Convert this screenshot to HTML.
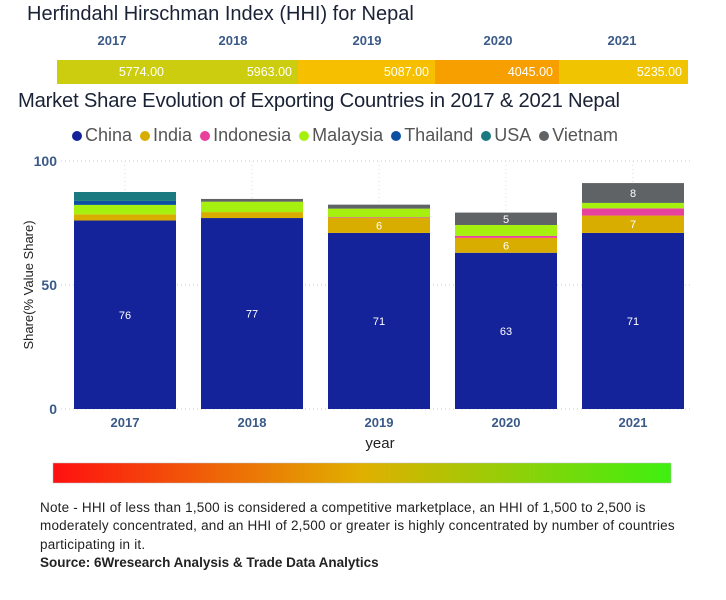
<!DOCTYPE html>
<html><head><meta charset="utf-8"><style>
body{margin:0;width:726px;height:600px;background:#fff;font-family:"Liberation Sans",sans-serif;position:relative;overflow:hidden}
.abs{position:absolute}
.t1{left:27px;top:3px;font-size:20px;color:#1a2236;letter-spacing:0px}
.yr{top:33px;font-size:13px;font-weight:bold;color:#3b5a88;width:80px;text-align:center}
.hhi{top:60px;height:24px;color:#fff;font-size:12.5px;line-height:24px;text-align:right;box-sizing:border-box;padding-right:6px}
.t2{left:18px;top:90px;font-size:20.2px;color:#1a2236;letter-spacing:-0.2px}
.leg{top:125px;left:72px;font-size:18px;color:#555;white-space:nowrap}
.leg span{margin-right:8px}
.leg i{display:inline-block;width:10px;height:10px;border-radius:50%;margin-right:3px}
.note{left:40px;top:499px;width:680px;font-size:13.5px;letter-spacing:0.2px;line-height:18.3px;color:#222;white-space:nowrap}
</style></head><body>
<div class="abs t1">Herfindahl Hirschman Index (HHI) for Nepal</div>
<div class="abs yr" style="left:72px">2017</div>
<div class="abs yr" style="left:193px">2018</div>
<div class="abs yr" style="left:327px">2019</div>
<div class="abs yr" style="left:458px">2020</div>
<div class="abs yr" style="left:582px">2021</div>
<div class="abs hhi" style="left:57px;width:113px;background:#cdcd0f">5774.00</div>
<div class="abs hhi" style="left:170px;width:128px;background:#cdcd0f">5963.00</div>
<div class="abs hhi" style="left:298px;width:137px;background:#f6c000">5087.00</div>
<div class="abs hhi" style="left:435px;width:124px;background:#f89f00">4045.00</div>
<div class="abs hhi" style="left:559px;width:129px;background:#f0c400">5235.00</div>
<div class="abs t2">Market Share Evolution of Exporting Countries in 2017 &amp; 2021 Nepal</div>
<div class="abs leg">
<span><i style="background:#14239a"></i>China</span><span><i style="background:#d9ad00"></i>India</span><span><i style="background:#e8409e"></i>Indonesia</span><span><i style="background:#a6f00f"></i>Malaysia</span><span><i style="background:#0d4fa0"></i>Thailand</span><span><i style="background:#1a7a80"></i>USA</span><span><i style="background:#5f6366"></i>Vietnam</span>
</div>
<svg class="abs" style="left:0;top:0" width="726" height="600">
<g id="grid"></g><g id="bars"></g><g id="axes"></g>
<text x="380" y="448" font-size="15" fill="#222" text-anchor="middle">year</text>
<text transform="translate(33,285) rotate(-90)" font-size="13" fill="#222" text-anchor="middle">Share(% Value Share)</text>
<defs><linearGradient id="g" x1="0" x2="1"><stop offset="0" stop-color="#ff1010"/><stop offset="0.5" stop-color="#e0b000"/><stop offset="1" stop-color="#3ef010"/></linearGradient></defs>
<rect x="53" y="463" width="618" height="20" fill="url(#g)" stroke="#bbb" stroke-width="0.5"/>
</svg>
<div class="abs note">Note - HHI of less than 1,500 is considered a competitive marketplace, an HHI of 1,500 to 2,500 is<br>moderately concentrated, and an HHI of 2,500 or greater is highly concentrated by number of countries<br>participating in it.<br><b style="letter-spacing:0">Source: 6Wresearch Analysis &amp; Trade Data Analytics</b></div>
<script>
const years=["2017","2018","2019","2020","2021"];
const countries=["China","India","Indonesia","Malaysia","Thailand","USA","Vietnam"];
const china=[76,77,71,63,71];
const india=[2.5,2.4,6,6,7];
const indonesia=[0,0,0.3,0.8,2.9];
const malaysia=[3.8,4.2,3.5,4.4,2.2];
const thailand=[1.6,0,0,0,0];
const usa=[3.6,0,0,0,0];
const vietnam=[0,1.1,1.6,5,8];
const yTicks=[0,50,100];
const series=[china,india,indonesia,malaysia,thailand,usa,vietnam];
const colors=["#14239a","#d9ad00","#e8409e","#a6f00f","#0d4fa0","#1a7a80","#5f6366"];
const NS="http://www.w3.org/2000/svg";
const y0=409,y1=161,x0=61,step=127,bw=102;
const Y=v=>y0-(v/100)*(y0-y1);
const X=i=>x0+13+i*step;
function mk(t,a,p){const e=document.createElementNS(NS,t);for(const k in a)e.setAttribute(k,a[k]);p.appendChild(e);return e;}
const grid=document.getElementById('grid'),bars=document.getElementById('bars'),axes=document.getElementById('axes');
yTicks.forEach(t=>{
 const l=mk('line',{x1:x0,x2:690,y1:Y(t),y2:Y(t),stroke:'#ccc','stroke-dasharray':'1,3'},grid);
 
 
 const tx=mk('text',{x:x0-4,y:Y(t)+5,'text-anchor':'end','font-size':14,'font-weight':'bold',fill:'#3b5a88'},axes);
 tx.textContent=t;
 
 
});
years.forEach((yr,i)=>{
 const vl=mk('line',{x1:X(i)+bw/2,x2:X(i)+bw/2,y1:y1,y2:y0,stroke:'#ddd','stroke-dasharray':'1,3'},grid);
 
 
 let acc=0;
 series.forEach((s,k)=>{
  const v=s[i]; if(!v)return;
  const r=mk('rect',{x:X(i),y:Y(acc+v),width:bw,height:Y(acc)-Y(acc+v),fill:colors[k]},bars);
  
  
  if(v>=5){
   const t=mk('text',{x:X(i)+bw/2,y:(Y(acc)+Y(acc+v))/2+4,'text-anchor':'middle','font-size':11,fill:'#fff'},bars);
   t.textContent=Math.round(v);
   
   
  }
  acc+=v;
 });
 const xt=mk('text',{x:X(i)+bw/2,y:427,'text-anchor':'middle','font-size':13,'font-weight':'bold',fill:'#3b5a88'},axes);
 xt.textContent=yr;
 
 
});
</script>
</body></html>
